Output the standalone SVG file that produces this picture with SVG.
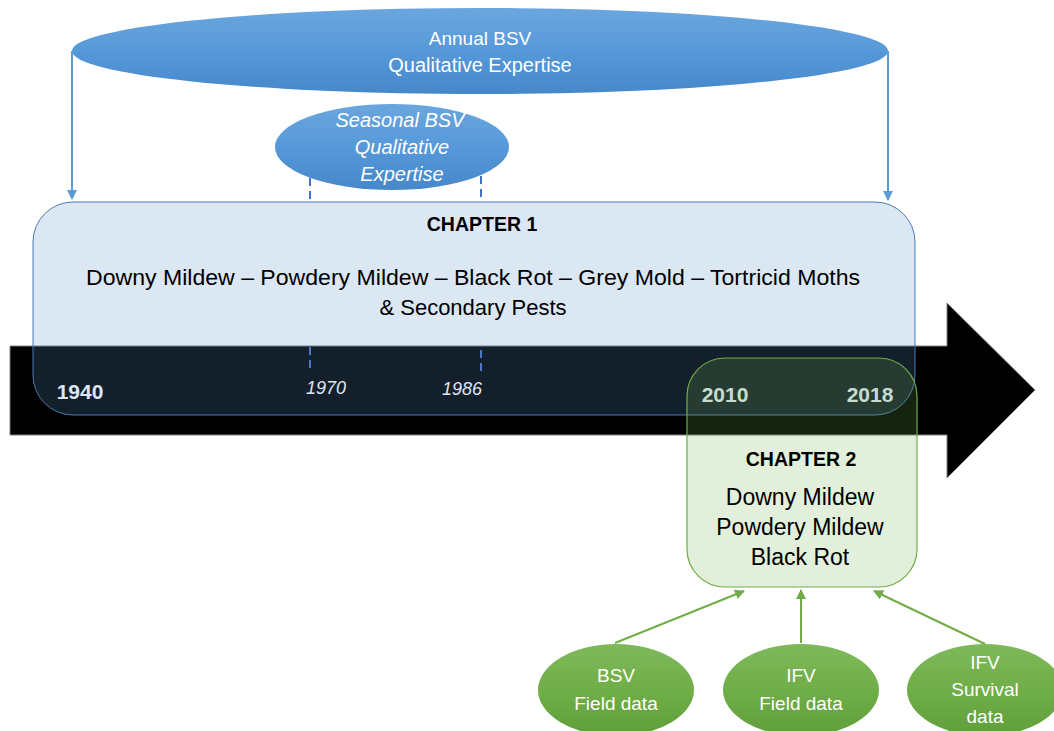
<svg xmlns="http://www.w3.org/2000/svg" width="1054" height="731" viewBox="0 0 1054 731">
<style>
text{font-family:"Liberation Sans",Arial,sans-serif;text-anchor:middle}
.w{fill:#ffffff;font-size:19px}
.wl{fill:#ffffff;font-size:20px}
.wi{fill:#ffffff;font-size:20px;font-style:italic}
.yr{fill:#ffffff;font-size:21px;font-weight:bold}
.yi{fill:#ffffff;font-size:18px;font-style:italic}
.hd{fill:#000;font-size:19.5px;font-weight:bold}
.tx{fill:#000;font-size:22px}
.tx2{fill:#000;font-size:23px}
.blue{stroke:#5b9bd5;stroke-width:2;fill:none}
.green{stroke:#70ad47;stroke-width:2;fill:none}
.dash{stroke:#4472c4;stroke-width:2;stroke-dasharray:8 5;fill:none}
</style>
<defs>
<linearGradient id="gb" x1="0" y1="0" x2="0" y2="1">
<stop offset="0" stop-color="#6ba6de"/><stop offset="0.5" stop-color="#5699d9"/><stop offset="1" stop-color="#4687c9"/>
</linearGradient>
<linearGradient id="gg" x1="0" y1="0" x2="0" y2="1">
<stop offset="0" stop-color="#7db95a"/><stop offset="0.5" stop-color="#70ae48"/><stop offset="1" stop-color="#5f9e38"/>
</linearGradient>
<marker id="ab" viewBox="0 0 10 10" refX="9" refY="5" markerWidth="5" markerHeight="5" orient="auto-start-reverse">
<path d="M0,0 L10,5 L0,10 z" fill="#5b9bd5"/>
</marker>
<marker id="ag" viewBox="0 0 10 10" refX="9" refY="5" markerWidth="5" markerHeight="5" orient="auto-start-reverse">
<path d="M0,0 L10,5 L0,10 z" fill="#70ad47"/>
</marker>
</defs>

<g id="timeline">
<path d="M10,346 H947 V303 L1035,390 L947,478 V435 H10 Z" fill="#000" stroke="#7f7f7f" stroke-width="1"/>
<text class="yr" x="80" y="399">1940</text>
<text class="yi" x="326" y="394">1970</text>
<text class="yi" x="462" y="395">1986</text>
<text class="yr" x="725" y="402">2010</text>
<text class="yr" x="870" y="402">2018</text>
</g>

<g id="annual">
<ellipse cx="480" cy="51" rx="408" ry="43" fill="url(#gb)"/>
<text class="w" x="480" y="45">Annual BSV</text>
<text class="wl" x="480" y="72">Qualitative Expertise</text>
</g>

<g id="seasonal">
<ellipse cx="392" cy="147" rx="117" ry="43" fill="url(#gb)"/>
<text class="wi" x="400" y="127">Seasonal BSV</text>
<text class="wi" x="402" y="154">Qualitative</text>
<text class="wi" x="402" y="181">Expertise</text>
</g>

<g id="connectors">
<path class="blue" d="M72,51 V199" marker-end="url(#ab)"/>
<path class="blue" d="M888,51 V200" marker-end="url(#ab)"/>
<path class="dash" d="M310,178 V202"/>
<path class="dash" d="M481,176 V202"/>
<path class="dash" d="M310,347 V371"/>
<path class="dash" d="M481,350 V374"/>
<path class="green" d="M615,643 L744,591" marker-end="url(#ag)"/>
<path class="green" d="M801,643 V590" marker-end="url(#ag)"/>
<path class="green" d="M985,644 L874,591" marker-end="url(#ag)"/>
</g>

<g id="chapter1">
<rect x="33" y="202" width="882" height="213" rx="40" ry="40" fill="#5b92cc" fill-opacity="0.215" stroke="#4a7ab0" stroke-width="1"/>
<text class="hd" x="482" y="231">CHAPTER 1</text>
<text class="tx" x="473" y="285" textLength="774" lengthAdjust="spacingAndGlyphs">Downy Mildew – Powdery Mildew – Black Rot – Grey Mold – Tortricid Moths</text>
<text class="tx" x="473" y="315">&amp; Secondary Pests</text>
</g>

<g id="chapter2">
<rect x="687" y="358" width="230" height="229" rx="38" ry="38" fill="#70ad47" fill-opacity="0.2" stroke="#70ad47" stroke-width="1.2"/>
<text class="hd" x="801" y="466">CHAPTER 2</text>
<text class="tx2" x="800" y="505">Downy Mildew</text>
<text class="tx2" x="800" y="535">Powdery Mildew</text>
<text class="tx2" x="800" y="565">Black Rot</text>
</g>

<g id="bsv-field">
<ellipse cx="616" cy="690" rx="78" ry="46" fill="url(#gg)"/>
<text class="w" x="616" y="682">BSV</text>
<text class="w" x="616" y="710">Field data</text>
</g>
<g id="ifv-field">
<ellipse cx="801" cy="690" rx="78" ry="46" fill="url(#gg)"/>
<text class="w" x="801" y="682">IFV</text>
<text class="w" x="801" y="710">Field data</text>
</g>
<g id="ifv-survival">
<ellipse cx="985" cy="690" rx="78" ry="46" fill="url(#gg)"/>
<text class="w" x="985" y="669">IFV</text>
<text class="w" x="985" y="696">Survival</text>
<text class="w" x="985" y="723">data</text>
</g>
</svg>
